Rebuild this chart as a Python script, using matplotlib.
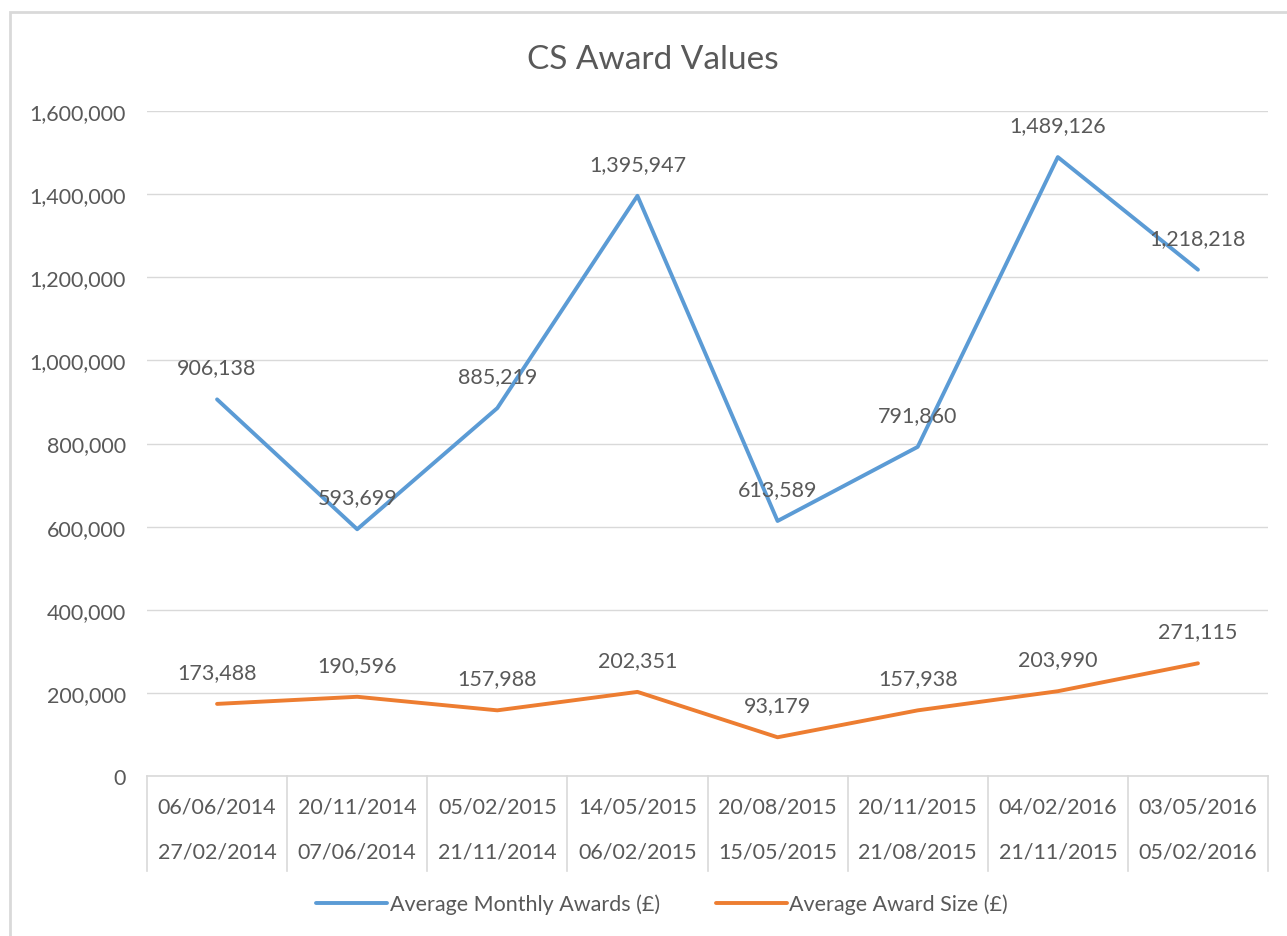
import matplotlib
matplotlib.use("Agg")
import matplotlib.pyplot as plt
from matplotlib.patches import Rectangle
from matplotlib.ticker import FuncFormatter

# data
periods_top = ["06/06/2014", "20/11/2014", "05/02/2015", "14/05/2015",
               "20/08/2015", "20/11/2015", "04/02/2016", "03/05/2016"]
periods_bottom = ["27/02/2014", "07/06/2014", "21/11/2014", "06/02/2015",
                  "15/05/2015", "21/08/2015", "21/11/2015", "05/02/2016"]
monthly_awards = [906138, 593699, 885219, 1395947, 613589, 791860, 1489126, 1218218]
award_size = [173488, 190596, 157988, 202351, 93179, 157938, 203990, 271115]

BLUE = "#5B9BD5"
ORANGE = "#ED7D31"
TXT = "#595959"
GRID = "#D9D9D9"
FS = 15.5

plt.rcParams["font.family"] = ["Lato", "DejaVu Sans"]

fig = plt.figure(figsize=(12.87, 9.37), dpi=100)
# chart border (cropped on the right/bottom)
fig.patches.append(Rectangle((10 / 1287, -0.05), 1.2, 1 - 13 / 937 + 0.05,
                             transform=fig.transFigure, fill=False,
                             edgecolor=GRID, linewidth=2))

ax = fig.add_axes([147 / 1287, 1 - 777 / 937, (1268 - 147) / 1287, (777 - 112) / 937])
x = list(range(len(periods_top)))

ax.plot(x, monthly_awards, color=BLUE, lw=2.8, solid_capstyle="round",
        label="Average Monthly Awards (£)", zorder=3)
ax.plot(x, award_size, color=ORANGE, lw=2.8, solid_capstyle="round",
        label="Average Award Size (£)", zorder=3)

for series in (monthly_awards, award_size):
    for xi, v in zip(x, series):
        ax.annotate("{:,}".format(v), (xi, v), xytext=(0, 23), textcoords="offset points",
                    ha="center", va="center", fontsize=FS, color=TXT, zorder=4)

ax.set_xlim(-0.5, len(x) - 0.5)
ax.set_ylim(0, 1600000)
ax.set_yticks(range(0, 1600001, 200000))
ax.yaxis.set_major_formatter(FuncFormatter(lambda v, p: "{:,.0f}".format(v)))
ax.tick_params(axis="y", length=0, pad=15, labelsize=FS, labelcolor=TXT)
ax.set_xticks([])
ax.grid(axis="y", color=GRID, lw=1)
ax.set_axisbelow(True)
for s in ["top", "right", "left"]:
    ax.spines[s].set_visible(False)
ax.spines["bottom"].set_color(GRID)
ax.spines["bottom"].set_linewidth(1.2)

# two-level category labels
tr = ax.get_xaxis_transform()
for xi, (t, b) in enumerate(zip(periods_top, periods_bottom)):
    ax.text(xi, -0.0466, t, transform=tr, ha="center", va="center",
            fontsize=FS, color=TXT)
    ax.text(xi, -0.1128, b, transform=tr, ha="center", va="center",
            fontsize=FS, color=TXT)
for xs in range(len(x) + 1):
    ax.plot([xs - 0.5, xs - 0.5], [0, -0.143], transform=tr, color=GRID,
            lw=1.2, clip_on=False)

fig.text(653 / 1287, 1 - 60 / 937, "CS Award Values", ha="center", va="center",
         fontsize=24, color=TXT)

fig.legend(loc="center", bbox_to_anchor=(662 / 1287, 1 - 905 / 937), ncol=2, frameon=False,
           fontsize=15.5, labelcolor=TXT, handlelength=3.3, handletextpad=0.1,
           columnspacing=2.6)

fig.savefig("out.png", dpi=100)
